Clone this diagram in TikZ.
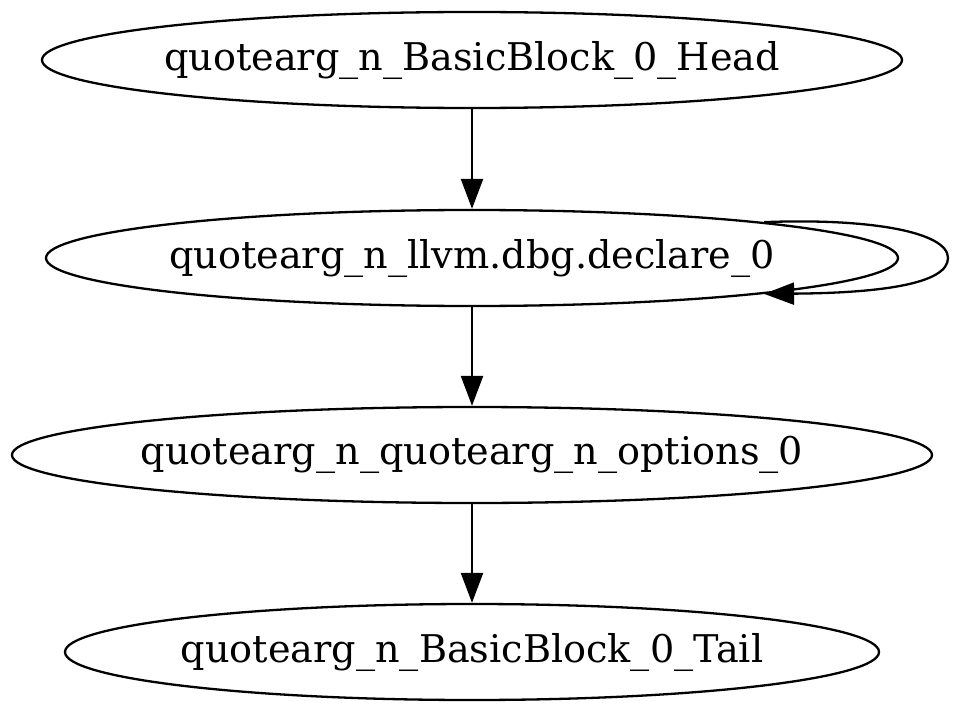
\documentclass[tikz,border=0pt]{standalone}
\usepackage{fontspec}
\newfontfamily\gvfont{DejaVu Serif}
\usetikzlibrary{shapes.geometric,arrows.meta}
\tikzset{
  gnode/.style={ellipse, draw, line width=2.3pt, inner sep=0pt, minimum height=96pt,
    font=\gvfont\fontsize{38.2}{44}\selectfont},
  arr/.style={line width=2.3pt, -{Triangle[length=30pt,width=22pt]}}
}
\newcommand{\gvt}[1]{\makebox[0pt]{#1}}
\begin{document}
\begin{tikzpicture}[x=1pt,y=-1pt]
\fill[white] (0,0) rectangle (960,714);
\useasboundingbox (0,0) rectangle (960,714);
\node[gnode, minimum width=860pt] (head) at (472,60) {\gvt{quotearg\_n\_BasicBlock\_0\_Head}};
\node[gnode, minimum width=852pt] (decl) at (472,258) {\gvt{quotearg\_n\_llvm.dbg.declare\_0}};
\node[gnode, minimum width=920pt] (opts) at (472,455) {\gvt{quotearg\_n\_quotearg\_n\_options\_0}};
\node[gnode, minimum width=814pt] (tail) at (472,652) {\gvt{quotearg\_n\_BasicBlock\_0\_Tail}};
\draw[arr] (head) -- (decl);
\draw[arr] (decl) -- (opts);
\draw[arr] (opts) -- (tail);
\draw[arr] (decl.7.3) .. controls (870,218) and (948,232) .. (948,258)
  .. controls (948,284) and (880,293) .. (decl.-7);
\end{tikzpicture}
\end{document}
